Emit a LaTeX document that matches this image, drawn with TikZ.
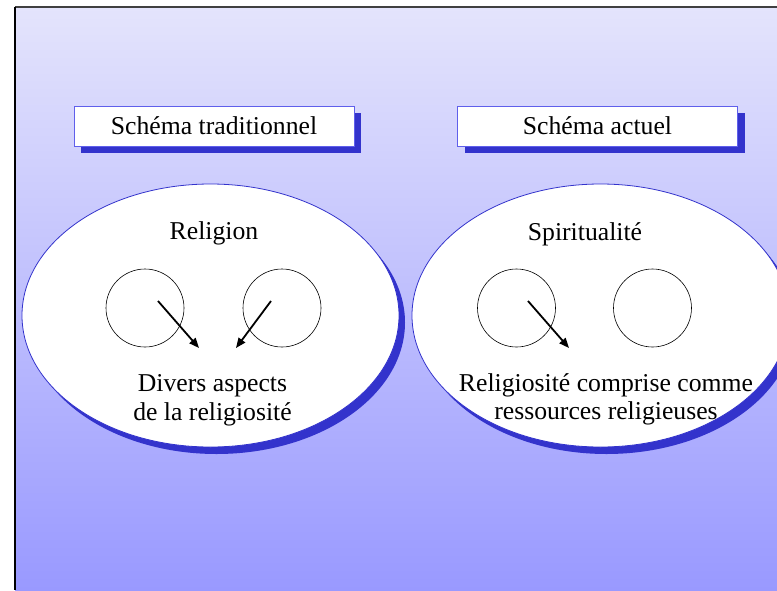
\documentclass[tikz,border=0pt]{standalone}
\usepackage{fontspec}
\setmainfont{Liberation Serif}
\usetikzlibrary{shapes.geometric,shadows,arrows.meta}
\definecolor{shblue}{RGB}{51,51,204}
\definecolor{boxline}{RGB}{95,95,235}
\definecolor{bgtop}{RGB}{228,228,252}
\definecolor{bgbot}{RGB}{153,153,255}
\begin{document}
\begin{tikzpicture}[x=1pt,y=-1pt,
  lbl/.style={font=\fontsize{25.7}{28.5}\selectfont, inner sep=0pt},
  titlebox/.style={draw=boxline, line width=0.8pt, fill=white, minimum width=280pt,
    minimum height=40pt, inner sep=0pt, text height=17pt, text depth=0pt,
    font=\fontsize{25.7}{28.5}\selectfont,
    drop shadow={shadow xshift=7pt, shadow yshift=-7pt, fill=shblue, opacity=1}},
  bigell/.style={ellipse, draw=shblue, line width=0.8pt, fill=white,
    minimum width=377pt, minimum height=263pt, inner sep=0pt,
    drop shadow={shadow xshift=6pt, shadow yshift=-7pt, fill=shblue, opacity=1}},
  ring/.style={circle, draw=black, line width=0.6pt, minimum size=78pt, inner sep=0pt},
  arr/.style={line width=1.8pt, -{Triangle[length=10pt,width=8pt]}}]
\useasboundingbox (0,0) rectangle (777,590);
\clip (0,0) rectangle (777,590);
\fill[white] (0,0) rectangle (777,590);
\shade[top color=bgtop, bottom color=bgbot] (15,7) rectangle (777,590);
\draw[line width=2pt, draw=black!75] (15,7) -- (777,7);
\draw[line width=1.5pt] (15,7) -- (15,590);

\node[titlebox] (t1) at (214,126) {Schéma traditionnel};
\node[titlebox] (t2) at (597.5,126) {Schéma actuel};

\node[bigell] (e1) at (210.5,315.5) {};
\node[bigell] (e2) at (600.5,315.5) {};

\node[lbl, anchor=base] (rel) at (214,239.5) {Religion};
\node[lbl, anchor=base] (spi) at (585,240) {Spiritualité};

\node[ring] (c1) at (145,308) {};
\node[ring] (c2) at (282,308) {};
\node[ring] (c3) at (516.5,308) {};
\node[ring] (c4) at (652.5,308) {};

\coordinate (a1s) at (158,301);
\coordinate (a1e) at (199,348);
\coordinate (a2s) at (271,301);
\coordinate (a2e) at (236,348);
\coordinate (a3s) at (528,301);
\coordinate (a3e) at (569,348);
\draw[arr] (a1s) -- (a1e);
\draw[arr] (a2s) -- (a2e);
\draw[arr] (a3s) -- (a3e);

\node[lbl, align=center, anchor=base] (div) at (212.5,420) {Divers aspects\\de la religiosité};
\node[lbl, align=center, anchor=base] (rrc) at (606,419.5) {Religiosité comprise comme\\ressources religieuses};
\end{tikzpicture}
\end{document}
